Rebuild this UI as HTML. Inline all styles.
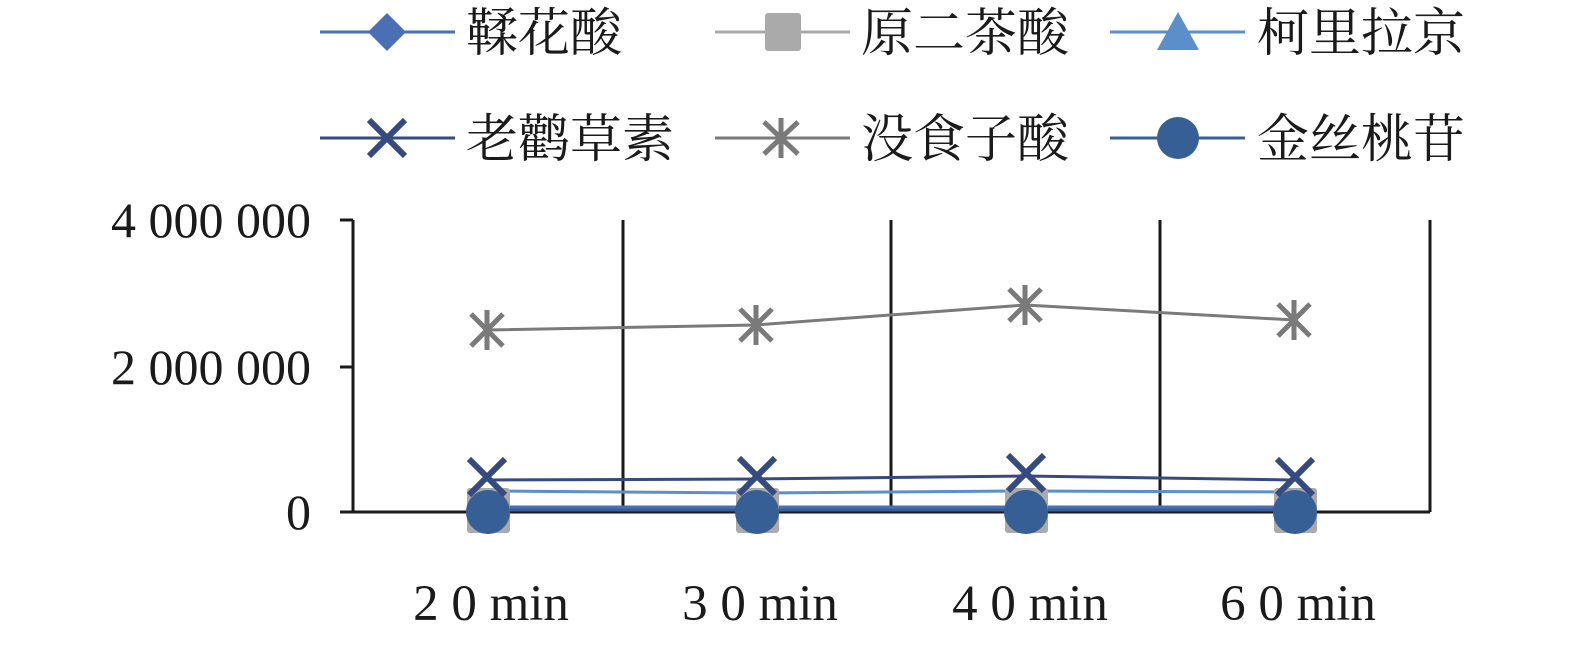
<!DOCTYPE html>
<html><head><meta charset="utf-8"><style>
html,body{margin:0;padding:0;background:#fff;}
svg text{font-family:"Liberation Serif","Noto Serif CJK SC",serif;fill:#1a1a1a;}
</style></head><body>
<svg width="1575" height="642" xmlns="http://www.w3.org/2000/svg">
<g stroke-width="3">
<line x1="320" y1="32" x2="455" y2="32" stroke="#4a6fb5"/>
<polygon points="387,13 406,32 387,51 368,32" fill="#4a6fb5"/>
<line x1="715" y1="32" x2="850" y2="32" stroke="#aaa"/>
<rect x="765" y="13" width="36" height="38" rx="3" fill="#aaa"/>
<line x1="1110" y1="32" x2="1245" y2="32" stroke="#5b8fcb"/>
<polygon points="1178,12 1199,50 1157,50" fill="#5b8fcb"/>
<line x1="320" y1="138" x2="455" y2="138" stroke="#354a7e"/>
<path d="M369,120 L405,156 M405,120 L369,156" stroke="#354a7e" stroke-width="6"/>
<line x1="715" y1="138" x2="850" y2="138" stroke="#7a7a7a"/>
<path d="M764,122 L798,154 M798,122 L764,154 M781,118 V158" stroke="#7a7a7a" stroke-width="5"/>
<line x1="1110" y1="138" x2="1245" y2="138" stroke="#365f96"/>
<circle cx="1178" cy="138" r="21" fill="#365f96"/>
</g>
<g font-size="52">
<text x="466" y="51">鞣花酸</text>
<text x="861" y="51">原二茶酸</text>
<text x="1257" y="51">柯里拉京</text>
<text x="466" y="157">老鹳草素</text>
<text x="861" y="157">没食子酸</text>
<text x="1257" y="157">金丝桃苷</text>
</g>
<g stroke="#1a1a1a" stroke-width="3" fill="none">
<line x1="353" y1="220" x2="353" y2="512"/>
<line x1="340" y1="220" x2="353" y2="220"/>
<line x1="340" y1="367" x2="353" y2="367"/>
<line x1="340" y1="512" x2="1430" y2="512"/>
<line x1="623" y1="220" x2="623" y2="512"/>
<line x1="891" y1="220" x2="891" y2="512"/>
<line x1="1160" y1="220" x2="1160" y2="512"/>
<line x1="1430" y1="220" x2="1430" y2="512"/>
</g>
<g font-size="50" text-anchor="end">
<text x="311" y="237">4 000 000</text>
<text x="311" y="384">2 000 000</text>
<text x="311" y="529">0</text>
</g>
<g font-size="51" text-anchor="middle">
<text x="491" y="620">2 0 min</text>
<text x="760" y="620">3 0 min</text>
<text x="1030" y="620">4 0 min</text>
<text x="1298" y="620">6 0 min</text>
</g>
<g fill="none" stroke-width="3">
<polyline points="486,330 756,325 1025,305 1294,320" stroke="#7a7a7a"/>
<polyline points="486,480 756,479 1025,476 1294,480" stroke="#354a7e"/>
<polyline points="486,491 756,493 1025,491 1294,492" stroke="#5b8fcb"/>
<polyline points="486,507 756,507 1025,507 1294,507" stroke="#4a6fb5"/>
<polyline points="486,510 756,510 1025,510 1294,510" stroke="#365f96"/>
</g>
<g>
<g id="m">
<rect x="467" y="488" width="43" height="45" rx="3" fill="#aaa"/>
<circle cx="488" cy="512" r="22" fill="#365f96"/>
</g>
<use href="#m" x="269"/><use href="#m" x="538"/><use href="#m" x="807"/>
</g>
<g stroke="#354a7e" stroke-width="6">
<path d="M469,459 L505,495 M505,459 L469,495"/>
<path d="M739,458 L775,494 M775,458 L739,494"/>
<path d="M1008,455 L1044,491 M1044,455 L1008,491"/>
<path d="M1277,459 L1313,495 M1313,459 L1277,495"/>
</g>
<g stroke="#7a7a7a" stroke-width="5">
<path d="M471,314 L503,346 M503,314 L471,346 M487,310 V350"/>
<path d="M740,309 L772,341 M772,309 L740,341 M756,305 V345"/>
<path d="M1009,289 L1041,321 M1041,289 L1009,321 M1025,285 V325"/>
<path d="M1278,304 L1310,336 M1310,304 L1278,336 M1294,300 V340"/>
</g>
</svg>
</body></html>
